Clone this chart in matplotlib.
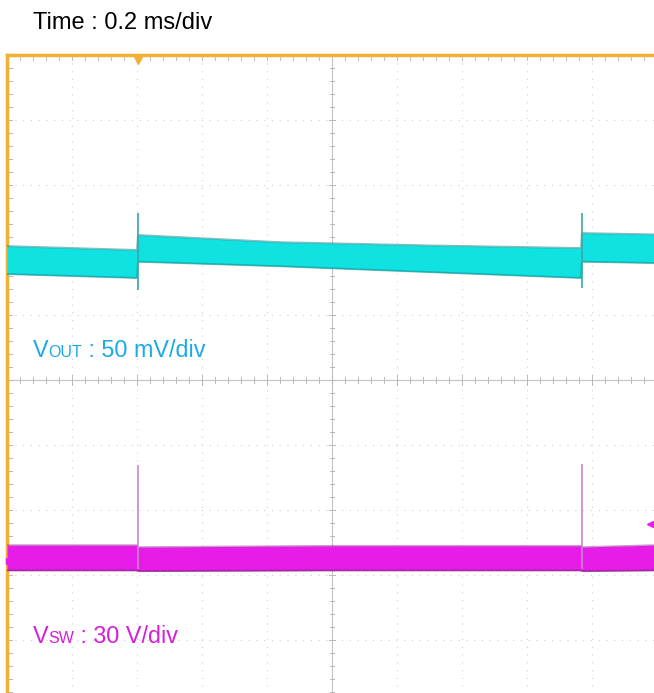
import matplotlib
matplotlib.use("Agg")
import matplotlib.pyplot as plt
import numpy as np

# scope settings
time_per_div = 0.2          # ms/div
n_xdiv = 10
n_ydiv = 10

# VOUT trace envelope (time in ms, level in divisions from screen centre)
vout_t = [0.0, 0.400, 0.403, 0.84, 1.30, 1.766, 1.769, 1.99]
vout_hi = [2.06, 2.00, 2.23, 2.12, 2.07, 2.03, 2.26, 2.24]
vout_lo = [1.63, 1.57, 1.82, 1.75, 1.66, 1.57, 1.82, 1.80]
vout_spike_t = [0.403, 1.769]
vout_spike_top = [2.57, 2.57]
vout_spike_bot = [1.39, 1.41]

# VSW trace envelope
vsw_t = [0.0, 0.400, 0.403, 1.0, 1.766, 1.769, 1.99]
vsw_hi = [-2.54, -2.54, -2.57, -2.55, -2.55, -2.57, -2.54]
vsw_lo = [-2.93, -2.93, -2.94, -2.93, -2.93, -2.94, -2.93]
vsw_spike_t = [0.403, 1.769]
vsw_spike_top = [-1.31, -1.29]

cyan = "#10E2E2"
cyan_edge = "#1C8C8C"
magenta = "#E81CE8"
magenta_edge = "#8C2A8C"
orange = "#F2B134"
grid_c = "#CFCFCF"

W, H = 654, 693
fig = plt.figure(figsize=(W / 100, H / 100), dpi=100)

# screen: left at 7px, top at 55px, 65 px per division
left, top, div = 7, 55, 65
ax = fig.add_axes([left / W, (H - top - n_ydiv * div) / H, n_xdiv * div / W, n_ydiv * div / H])
ax.set_xlim(0, n_xdiv * time_per_div)
ax.set_ylim(-n_ydiv / 2, n_ydiv / 2)
ax.set_xticks([])
ax.set_yticks([])
for s in ["right", "bottom"]:
    ax.spines[s].set_visible(False)
for s in ["left", "top"]:
    ax.spines[s].set_color(orange)
    ax.spines[s].set_linewidth(2.5)

xmax = n_xdiv * time_per_div
# dotted grid
for i in range(1, n_xdiv):
    ax.axvline(i * time_per_div, color=grid_c, lw=0.8, ls=(0, (1, 6)), zorder=1)
for j in range(-4, 5):
    ax.axhline(j, color=grid_c, lw=0.8, ls=(0, (1, 6)), zorder=1)
# centre axes
ax.axvline(xmax / 2, color="#C4C4C4", lw=0.8, zorder=1)
ax.axhline(0, color="#C4C4C4", lw=0.8, zorder=1)
# minor ticks along centre axes and edges
minor_x = np.arange(0, xmax + 1e-9, time_per_div / 5)
minor_y = np.arange(-5, 5 + 1e-9, 0.2)
for k, xv in enumerate(minor_x):
    h = 0.08 if k % 5 == 0 else 0.05
    ax.plot([xv, xv], [-h, h], color="#B8B8B8", lw=0.7, zorder=1)
    ax.plot([xv, xv], [5, 5 - 0.08], color="#C0C0C0", lw=0.7, zorder=1)
for k, yv in enumerate(minor_y):
    w = 0.008 if k % 5 == 0 else 0.005
    ax.plot([xmax / 2 - w, xmax / 2 + w], [yv, yv], color="#B8B8B8", lw=0.7, zorder=1)
    ax.plot([0, 0.016], [yv, yv], color="#B8B8B8", lw=0.7, zorder=1)

# VOUT trace
ax.fill_between(vout_t, vout_lo, vout_hi, color=cyan, lw=0, zorder=3)
ax.plot(vout_t, vout_hi, color=cyan_edge, lw=1.4, alpha=0.55, zorder=4)
ax.plot(vout_t, vout_lo, color=cyan_edge, lw=1.4, alpha=0.55, zorder=4)
ax.vlines(vout_spike_t, vout_spike_bot, vout_spike_top, color="#3AA8A8", lw=1.2, zorder=5)

# VSW trace
ax.fill_between(vsw_t, vsw_lo, vsw_hi, color=magenta, lw=0, zorder=3)
ax.plot(vsw_t, vsw_hi, color=magenta_edge, lw=1.2, alpha=0.45, zorder=4)
ax.plot(vsw_t, vsw_lo, color=magenta_edge, lw=1.4, alpha=0.7, zorder=4)
ax.vlines(vsw_spike_t, [-2.9, -2.9], vsw_spike_top, color="#C888C8", lw=1.2, zorder=5)

# trigger marker and channel markers
ax.plot([0.403], [4.93], marker="v", color=orange, ms=6, clip_on=False, zorder=6)
ax.plot([0.005], [-2.78], marker=">", color=magenta, ms=5, clip_on=False, zorder=6)
ax.plot([1.98], [-2.22], marker="<", color=magenta, ms=5, clip_on=False, zorder=6)

# labels
fig.text(33 / W, 1 - 29 / H, "Time : 0.2 ms/div", fontsize=17, family="Liberation Sans",
         color="black", va="baseline")

renderer = fig.canvas.get_renderer()


def label(x_px, base_px, parts, color):
    x = x_px
    for txt, size in parts:
        t = fig.text(x / W, 1 - base_px / H, txt, fontsize=size, family="Liberation Sans",
                     color=color, va="baseline")
        bb = t.get_window_extent(renderer)
        x += bb.width


label(33, 357, [("V", 16.8), ("OUT", 11.5), (" : 50 mV/div", 16.8)], "#1AAAE6")
label(33, 643, [("V", 16.8), ("SW", 11.5), (" : 30 V/div", 16.8)], "#D61ED6")

fig.savefig("out.png", dpi=100)
